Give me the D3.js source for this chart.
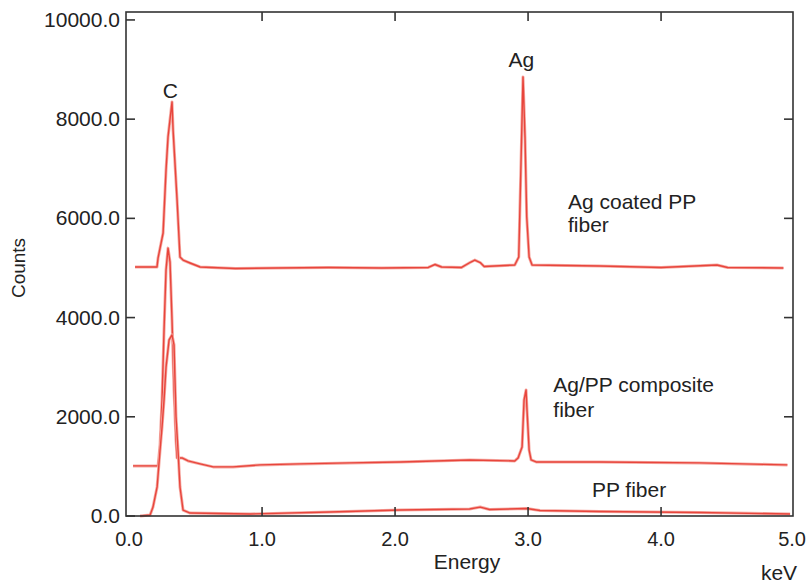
<!DOCTYPE html>
<html lang="en">

<head>
    <meta charset="UTF-8">
    <title>EDS spectra</title>
    <script src="https://cdn.jsdelivr.net/npm/d3@7"></script>
    <style>
        * {
            margin: 0;
        }

        body {
            background: #fff;
        }

        svg text {
            font-family: "Liberation Sans", Arial, Helvetica, sans-serif;
            fill: #222;
        }
    </style>
</head>

<body>
    <svg id="chart" width="807" height="585"></svg>
    <script>
        // energy (keV), counts
        var agCoated = [
            [0.045, 5020], [0.21, 5020], [0.218, 5200], [0.256, 5705], [0.278, 6975], [0.293, 7640],
            [0.323, 8345], [0.331, 7780], [0.361, 6370], [0.383, 5220], [0.406, 5160], [0.459, 5100],
            [0.534, 5020], [0.8, 4990], [1.1, 5000], [1.5, 5010], [1.9, 5000], [2.25, 5010],
            [2.3, 5070], [2.35, 5020], [2.5, 5010], [2.57, 5120], [2.6, 5160], [2.64, 5110],
            [2.67, 5030], [2.9, 5060], [2.93, 5220], [2.947, 7120], [2.962, 8850], [2.977, 7640],
            [2.99, 6030], [3.008, 5220], [3.03, 5060], [3.54, 5040], [4.0, 5010], [4.42, 5060],
            [4.5, 5010], [4.92, 5000]
        ];

        var agComposite = [
            [0.03, 1010], [0.218, 1010], [0.233, 1430], [0.248, 2340], [0.263, 3750], [0.278, 4960],
            [0.293, 5400], [0.308, 5120], [0.323, 3950], [0.338, 2540], [0.353, 1530], [0.361, 1170],
            [0.398, 1170], [0.444, 1110], [0.534, 1050], [0.632, 990], [0.782, 990], [0.985, 1030],
            [1.286, 1050], [1.66, 1070], [2.04, 1090], [2.56, 1130], [2.9, 1110], [2.925, 1170],
            [2.955, 1390], [2.97, 2340], [2.985, 2540], [2.992, 2140], [3.008, 1330], [3.023, 1130],
            [3.06, 1090], [3.54, 1090], [4.29, 1070], [4.95, 1030]
        ];

        var ppFiber = [
            [0.083, 0], [0.158, 20], [0.18, 180], [0.211, 585], [0.233, 1330], [0.248, 1795],
            [0.263, 2340], [0.278, 3000], [0.301, 3550], [0.323, 3650], [0.338, 3450], [0.353, 2000],
            [0.368, 1330], [0.383, 585], [0.406, 120], [0.459, 60], [0.91, 40], [1.51, 80],
            [2.04, 120], [2.56, 140], [2.64, 180], [2.71, 130], [2.99, 150], [3.09, 110],
            [3.54, 90], [4.29, 70], [4.97, 40]
        ];

        var xTicks = [0, 1, 2, 3, 4, 5];
        var yTicks = [0, 2000, 4000, 6000, 8000, 10000];

        var labels = [
            { text: "C", e: 0.31, c: 8420, anchor: "middle" },
            { text: "Ag", e: 2.95, c: 9050, anchor: "middle" },
            { text: "Ag coated PP", e: 3.3, c: 6190, anchor: "start" },
            { text: "fiber", e: 3.3, c: 5730, anchor: "start" },
            { text: "Ag/PP composite", e: 3.19, c: 2500, anchor: "start" },
            { text: "fiber", e: 3.19, c: 2000, anchor: "start" },
            { text: "PP fiber", e: 3.48, c: 380, anchor: "start" }
        ];

        var svg = d3.select("#chart");

        var x = d3.scaleLinear().domain([-0.023, 4.992]).range([126, 793]);
        var y = d3.scaleLinear().domain([0, 10160]).range([516, 12]);

        var line = d3.line()
            .x(function (d) { return x(d[0]); })
            .y(function (d) { return y(d[1]); });

        // spectra: a soft halo under a thin red trace
        [agCoated, agComposite, ppFiber].forEach(function (s) {
            svg.append("path")
                .attr("d", line(s))
                .attr("fill", "none")
                .attr("stroke", "#f5aaa3")
                .attr("stroke-width", 3)
                .attr("stroke-linejoin", "round");
            svg.append("path")
                .attr("d", line(s))
                .attr("fill", "none")
                .attr("stroke", "#e8453c")
                .attr("stroke-width", 1.4)
                .attr("stroke-linejoin", "round");
        });

        // frame
        svg.append("rect")
            .attr("x", x.range()[0])
            .attr("y", y.range()[1])
            .attr("width", x.range()[1] - x.range()[0])
            .attr("height", y.range()[0] - y.range()[1])
            .attr("fill", "none")
            .attr("stroke", "#333")
            .attr("stroke-width", 1.6);

        // ticks on all four sides, pointing inward
        var inner = xTicks.filter(function (v) { return v > 0 && v < 5; });
        var g = svg.append("g").attr("stroke", "#333").attr("stroke-width", 1.6);
        inner.forEach(function (v) {
            g.append("line").attr("x1", x(v)).attr("x2", x(v)).attr("y1", 516).attr("y2", 507);
            g.append("line").attr("x1", x(v)).attr("x2", x(v)).attr("y1", 12).attr("y2", 21);
        });
        yTicks.forEach(function (v) {
            g.append("line").attr("x1", 126).attr("x2", 135).attr("y1", y(v)).attr("y2", y(v));
            if (v > 0 && v < 10000) {
                g.append("line").attr("x1", 793).attr("x2", 784).attr("y1", y(v)).attr("y2", y(v));
            }
        });

        // tick labels
        svg.selectAll("text.ylab")
            .data(yTicks)
            .enter()
            .append("text")
            .attr("class", "ylab")
            .attr("x", 120)
            .attr("y", function (d) { return y(d) + 7; })
            .attr("text-anchor", "end")
            .attr("font-size", 21)
            .text(d3.format(".1f"));

        // last label sits at the window edge, so pull it in a little
        svg.selectAll("text.xlab")
            .data(xTicks)
            .enter()
            .append("text")
            .attr("class", "xlab")
            .attr("x", function (d) { return d === 5 ? 806 : x(d); })
            .attr("y", 546)
            .attr("text-anchor", function (d) { return d === 5 ? "end" : "middle"; })
            .attr("font-size", 20)
            .text(d3.format(".1f"));

        // axis titles
        svg.append("text")
            .attr("x", 467).attr("y", 569)
            .attr("text-anchor", "middle")
            .attr("font-size", 21)
            .text("Energy");

        svg.append("text")
            .attr("x", 779).attr("y", 580)
            .attr("text-anchor", "middle")
            .attr("font-size", 21)
            .text("keV");

        svg.append("text")
            .attr("transform", "translate(25,268) rotate(-90)")
            .attr("text-anchor", "middle")
            .attr("font-size", 19)
            .text("Counts");

        // peak / curve annotations
        svg.selectAll("text.note")
            .data(labels)
            .enter()
            .append("text")
            .attr("class", "note")
            .attr("x", function (d) { return x(d.e); })
            .attr("y", function (d) { return y(d.c); })
            .attr("text-anchor", function (d) { return d.anchor; })
            .attr("font-size", 21)
            .text(function (d) { return d.text; });
    </script>
</body>

</html>
